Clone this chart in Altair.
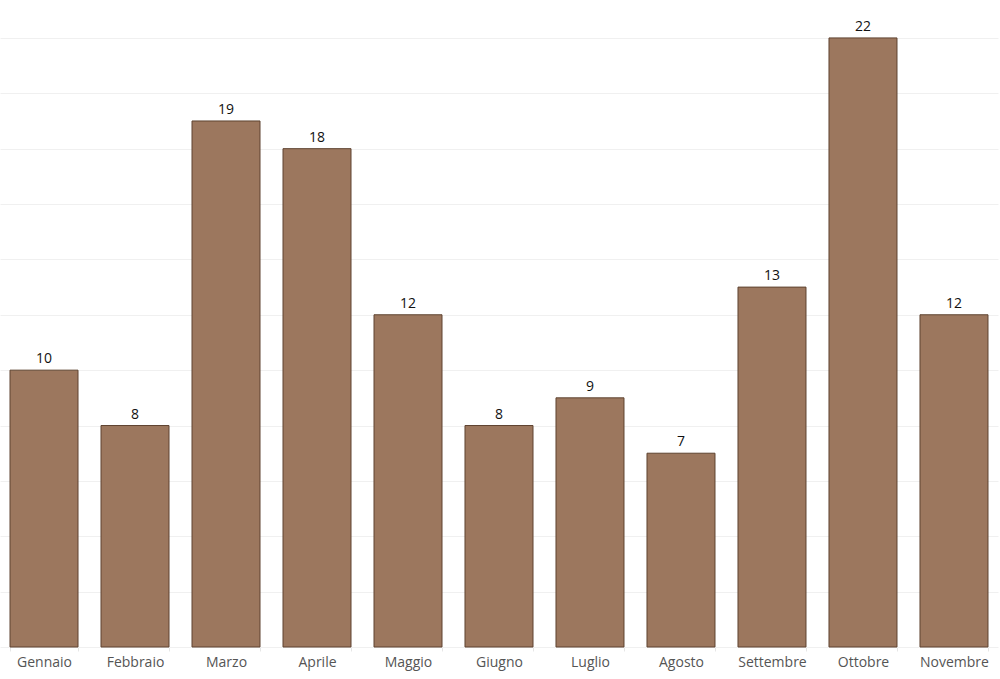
import altair as alt
import pandas as pd

mesi = ["Gennaio", "Febbraio", "Marzo", "Aprile", "Maggio", "Giugno",
        "Luglio", "Agosto", "Settembre", "Ottobre", "Novembre"]
valori = [10, 8, 19, 18, 12, 8, 9, 7, 13, 22, 12]

df = pd.DataFrame({"mese": mesi, "valore": valori})

x = alt.X("mese:N", sort=mesi, title=None,
          scale=alt.Scale(paddingInner=0.2527, paddingOuter=0.11),
          axis=alt.Axis(labelAngle=0, labelFont="Open Sans", labelFontSize=14,
                        labelColor="#555555", labelPadding=4, domain=False,
                        ticks=True, tickBand="extent", tickColor="#e6e6e6",
                        tickSize=4, grid=False))
y = alt.Y("valore:Q", title=None,
          scale=alt.Scale(domain=[0, 23.37], nice=False, zero=True),
          axis=alt.Axis(values=list(range(0, 24, 2)), labels=False, ticks=False,
                        domain=False, grid=True, gridColor="#f0f0f0", gridWidth=1))

base = alt.Chart(df).encode(x=x, y=y)

bars = base.mark_bar(color="#9C775E", stroke="#5e4330", strokeWidth=1)
text = base.mark_text(dy=-11, font="Open Sans", fontSize=14, color="#111111").encode(
    text="valore:Q")

chart = (bars + text).properties(
    width=998, height=647,
    padding={"left": 0, "top": 0, "right": 2, "bottom": 32},
    autosize=alt.AutoSizeParams(type="none"),
    background="white",
).configure_view(stroke=None)

chart.save("out.html", embed_options={"renderer": "svg", "actions": False})
